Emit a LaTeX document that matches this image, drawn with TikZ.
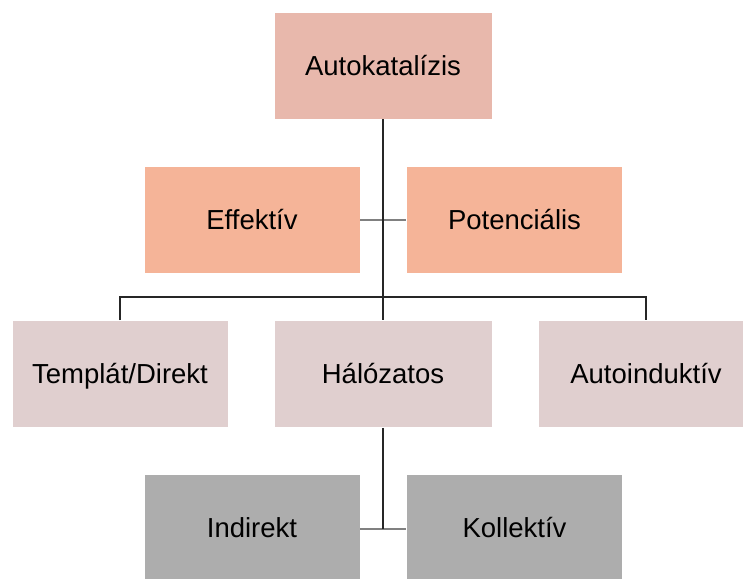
\documentclass[tikz,border=0pt]{standalone}
\usepackage{fontspec}
\setmainfont{Liberation Sans}
\usetikzlibrary{positioning}
\definecolor{topfill}{HTML}{E8B8AC}
\definecolor{midfill}{HTML}{F5B498}
\definecolor{rowfill}{HTML}{E0CFCF}
\definecolor{lowfill}{HTML}{ADADAD}
\tikzset{font=\fontsize{27.5}{31}\selectfont,
  box/.style={draw=white,line width=0.8pt,minimum width=216pt,minimum height=107pt,inner sep=0pt,
    text height=20pt,text depth=1pt},
  link/.style={draw=black!85,line width=1.1pt},
  tie/.style={draw=black!50,line width=2pt}}

\begin{document}
\begin{tikzpicture}[x=1pt,y=-1pt]
\useasboundingbox (0,0) rectangle (743,578);
\clip (0,0) rectangle (743,578);
\node[box,fill=topfill,minimum width=218pt] (auto) at (383,65.5) {Autokatalízis};
\node[box,fill=midfill] (eff) at (252,219.5) {Effektív};
\node[box,fill=midfill] (pot) at (514.5,219.5) {Potenciális};
\node[box,fill=rowfill] (templ) at (120,374) {Templát/Direkt};
\node[box,fill=rowfill,minimum width=218pt] (hal) at (383,374) {Hálózatos};
\node[box,fill=rowfill] (autoind) at (646,374) {Autoinduktív};
\node[box,fill=lowfill] (ind) at (252,528) {Indirekt};
\node[box,fill=lowfill] (kol) at (514.5,528) {Kollektív};

\coordinate (split) at (383,297);
\coordinate (foot) at (383,529);
\path[tie] (eff.east) edge (pot.west);
\path[link] (auto.south) edge (hal.north);
\path[link] (templ.north) |- (split) -| (autoind.north);
\path[tie] (ind.east |- foot) edge (kol.west |- foot);
\path[link] (hal.south) edge (foot);
\end{tikzpicture}
\end{document}
